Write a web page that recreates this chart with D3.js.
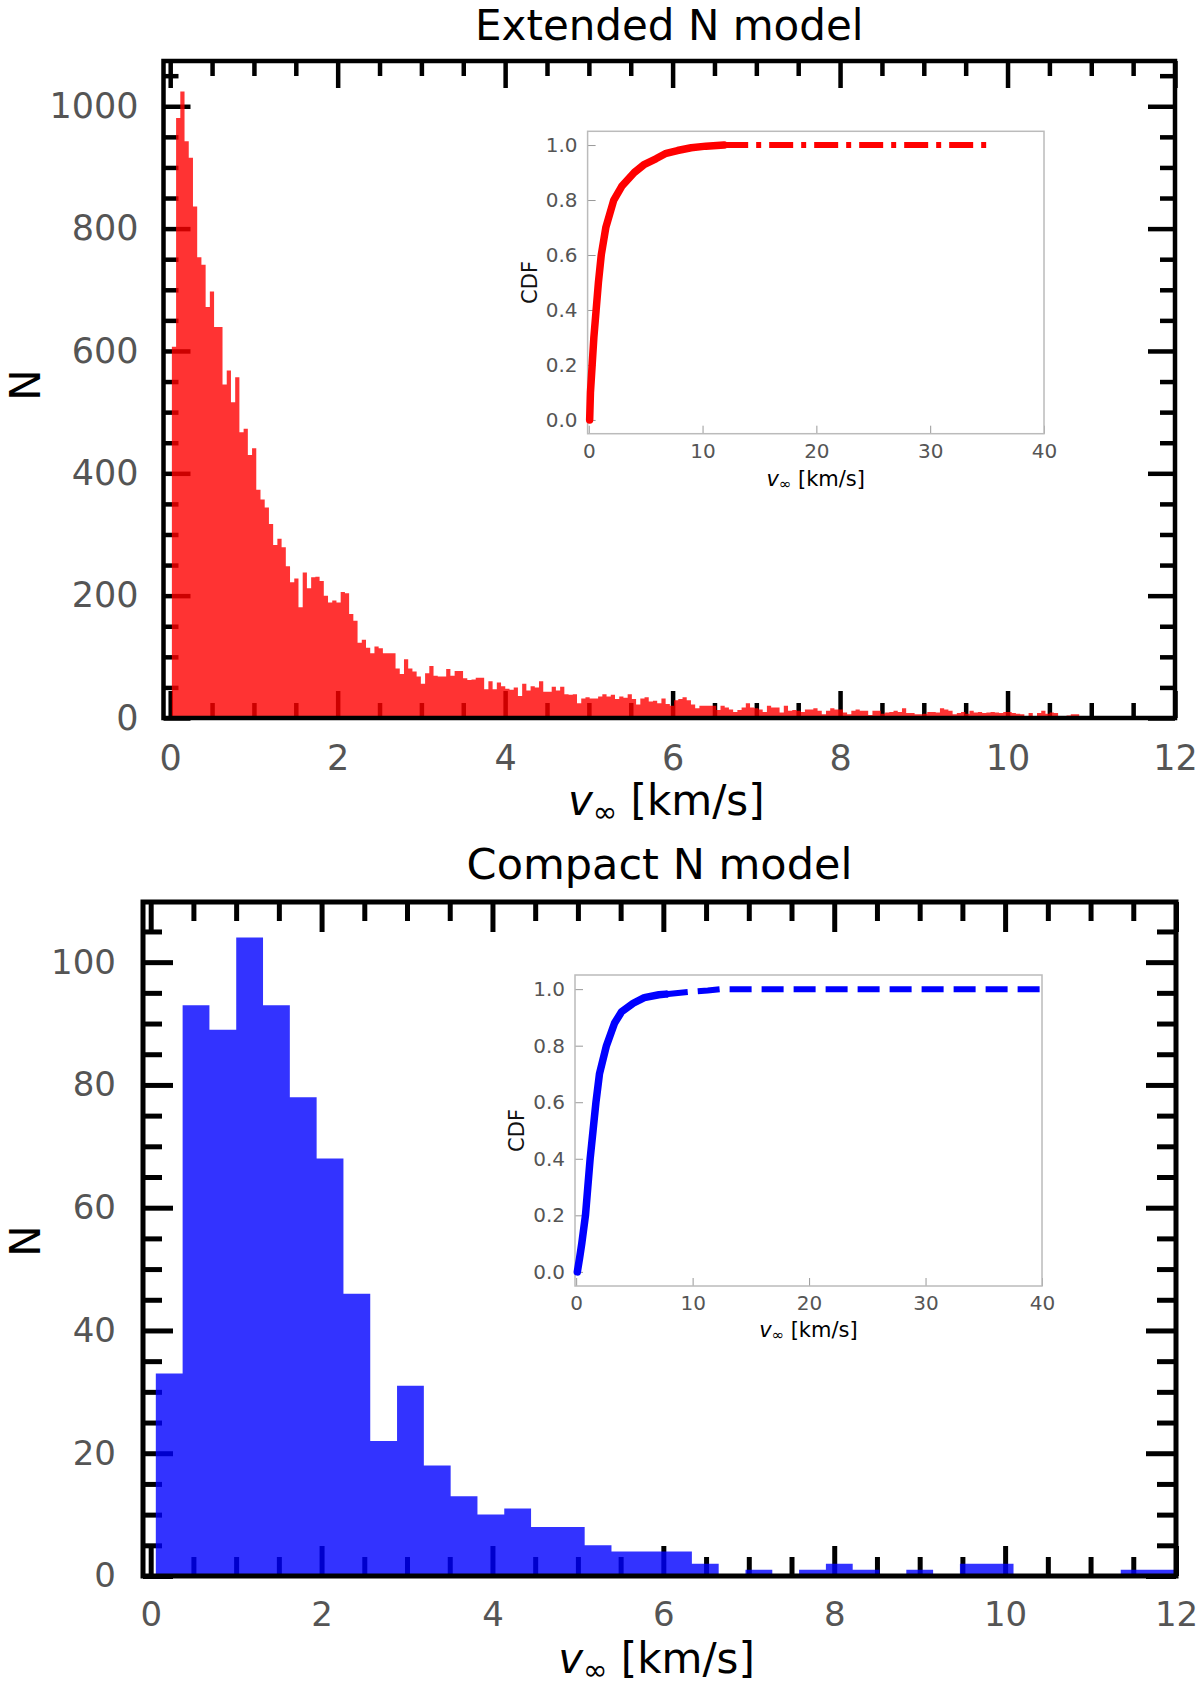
<!DOCTYPE html>
<html>
<head>
<meta charset="utf-8">
<script src="https://cdn.jsdelivr.net/npm/d3@7"></script>
<style>
  body { margin: 0; background: #fff; }
  svg { display: block; }
</style>
</head>
<body>
<svg id="chart" width="1200" height="1687"></svg>
<script>
/* ---------- data ---------- */
// Extended N model: histogram of v_inf, bins of 0.0504 km/s starting at 0.02
const extBinStart = 0.02;
const extBinWidth = 0.0504;
const extCounts = [
  607, 981, 1024, 943, 916, 836, 753, 741, 672, 697, 639, 639, 545, 568, 516, 557, 467, 473, 430, 441,
  373, 357, 344, 317, 283, 293, 279, 248, 222, 228, 181, 238, 212, 230, 231, 224, 200, 189, 192, 189,
  206, 204, 170, 159, 123, 128, 115, 106, 117, 114, 106, 106, 106, 81, 72, 96, 81, 76, 68, 56,
  73, 85, 69, 68, 68, 80, 69, 77, 77, 65, 62, 63, 66, 66, 47, 60, 47, 58, 52, 48,
  46, 50, 36, 56, 45, 52, 50, 60, 43, 43, 51, 45, 51, 39, 38, 39, 24, 32, 34, 32,
  32, 35, 39, 35, 38, 31, 35, 33, 39, 31, 22, 32, 34, 27, 28, 24, 32, 23, 20, 29,
  31, 34, 29, 22, 16, 20, 20, 20, 20, 13, 20, 17, 14, 10, 13, 17, 24, 17, 16, 14,
  10, 20, 17, 17, 9, 20, 12, 13, 12, 10, 14, 14, 16, 12, 6, 12, 16, 14, 14, 9,
  6, 12, 14, 12, 12, 5, 12, 12, 7, 9, 10, 12, 10, 16, 8, 8, 6, 6, 7, 10,
  10, 9, 16, 14, 12, 6, 8, 10, 7, 12, 9, 10, 8, 9, 10, 9, 8, 10, 10, 8,
  7, 6, 3, 8, 3, 8, 12, 7, 9, 8, 3, 3, 4, 6, 6, 3, 2
];

// Compact N model: bins of 0.3137 km/s starting at 0.06
const compBinStart = 0.06;
const compBinWidth = 0.3137;
const compCounts = [
  33, 93, 89, 104, 93, 78, 68, 46, 22, 31, 18, 13, 10, 11, 8, 8, 5, 4, 4, 4,
  2, 0, 1, 0, 1, 2, 1, 0, 1, 0, 2, 2, 0, 0, 0, 0, 1, 1
];

// CDF insets
const extCdfX = [0.08, 0.15, 0.3, 0.45, 0.65, 0.85, 1.1, 1.5, 2.2, 2.9, 4.0, 4.9, 5.9, 6.8, 7.8, 9.0, 10.3, 11.9, 35.3];
const extCdfY = [0.0, 0.1, 0.2, 0.3, 0.4, 0.5, 0.6, 0.7, 0.8, 0.85, 0.9, 0.93, 0.95, 0.97, 0.98, 0.99, 0.996, 1.0, 1.0];
const compCdfX = [0.1, 0.3, 0.48, 0.8, 1.0, 1.2, 1.45, 1.7, 2.0, 2.6, 3.3, 3.9, 4.9, 5.85, 7.1, 9.7, 11.3, 12.5, 40];
const compCdfY = [0.0, 0.05, 0.1, 0.2, 0.3, 0.4, 0.5, 0.6, 0.7, 0.8, 0.88, 0.92, 0.95, 0.97, 0.98, 0.99, 0.995, 1.0, 1.0];

// ticks
const histXMajor = [0, 2, 4, 6, 8, 10, 12];
const histXMinor = d3.range(0, 12.01, 0.5).filter(v => v % 2 !== 0);
const extYMajor = [0, 200, 400, 600, 800, 1000];
const extYMinor = d3.range(0, 1051, 50).filter(v => v % 200 !== 0);
const compYMajor = [0, 20, 40, 60, 80, 100];
const compYMinor = d3.range(0, 106, 5).filter(v => v % 20 !== 0);
const cdfXTicks = [0, 10, 20, 30, 40];
const cdfYTicks = [0, 0.2, 0.4, 0.6, 0.8, 1.0];

/* ---------- drawing ---------- */
const FONT = "'DejaVu Sans', sans-serif";
const svg = d3.select("#chart");

function xLabel(g, x, y, size, anchor) {
  const t = g.append("text")
    .attr("x", x).attr("y", y)
    .attr("text-anchor", anchor || "middle")
    .attr("font-family", FONT)
    .attr("font-size", size)
    .attr("fill", "#000");
  t.append("tspan").attr("font-style", "italic").text("v");
  t.append("tspan").attr("font-size", size * 0.7).attr("dy", size * 0.16).text("∞");
  t.append("tspan").attr("dy", -size * 0.16).text(" [km/s]");
}

function styleAxis(g, width, color) {
  g.select(".domain").remove();
  g.selectAll("line").attr("stroke", color).attr("stroke-width", width);
}

function histPanel(o) {
  const g = svg.append("g");
  const x = d3.scaleLinear().domain(o.xDomain).range([o.l, o.r]);
  const y = d3.scaleLinear().domain(o.yDomain).range([o.b, o.t]);

  // ticks on all four sides, pointing in (drawn below the bars)
  const sides = [
    [d3.axisBottom, x, `translate(0,${o.b})`, o.xMajor, o.xMinor, true],
    [d3.axisTop, x, `translate(0,${o.t})`, o.xMajor, o.xMinor, false],
    [d3.axisLeft, y, `translate(${o.l},0)`, o.yMajor, o.yMinor, true],
    [d3.axisRight, y, `translate(${o.r},0)`, o.yMajor, o.yMinor, false]
  ];
  sides.forEach(([ax, sc, tr, major, minor, labelled]) => {
    const isX = ax === d3.axisBottom || ax === d3.axisTop;
    g.append("g").attr("transform", tr)
      .call(ax(sc).tickValues(minor).tickSize(-o.minorLen).tickFormat(""))
      .call(a => styleAxis(a, o.tickW, "#000"));
    const maj = g.append("g").attr("transform", tr)
      .call(ax(sc).tickValues(major).tickSize(-o.majorLen)
        .tickPadding(isX ? o.xPad : o.yPad)
        .tickFormat(labelled ? d3.format("d") : ""))
      .call(a => styleAxis(a, o.tickW, "#000"));
    maj.attr("font-family", FONT).attr("font-size", o.tickFont);
    maj.selectAll("text").attr("fill", "#555");
  });

  // histogram as one step area, semi-transparent
  const pts = o.counts.map((c, i) => [o.binStart + i * o.binWidth, c]);
  pts.push([o.binStart + o.counts.length * o.binWidth, o.counts[o.counts.length - 1]]);
  const area = d3.area()
    .x(d => x(d[0]))
    .y0(y(0))
    .y1(d => y(d[1]))
    .curve(d3.curveStepAfter);
  g.append("path")
    .datum(pts)
    .attr("d", area)
    .attr("fill", o.color)
    .attr("fill-opacity", 0.8);

  // frame
  g.append("rect")
    .attr("x", o.l).attr("y", o.t)
    .attr("width", o.r - o.l).attr("height", o.b - o.t)
    .attr("fill", "none").attr("stroke", "#000").attr("stroke-width", o.frameW);

  // title + labels
  g.append("text")
    .attr("x", (o.l + o.r) / 2).attr("y", o.titleY)
    .attr("text-anchor", "middle")
    .attr("font-family", FONT).attr("font-size", o.titleFont)
    .attr("fill", "#000")
    .text(o.title);
  xLabel(g, (o.l + o.r) / 2 - 3, o.xLabelY, o.labelFont);
  g.append("text")
    .attr("transform", `translate(${o.yLabelX},${o.yLabelY}) rotate(-90)`)
    .attr("text-anchor", "middle")
    .attr("font-family", FONT).attr("font-size", o.labelFont)
    .attr("fill", "#000")
    .text("N");
}

function cdfInset(o) {
  const g = svg.append("g");
  const x = d3.scaleLinear().domain([-0.1, 40]).range([o.l, o.r]);
  const y = d3.scaleLinear().domain([-0.05, 1.05]).range([o.b, o.t]);

  g.append("rect")
    .attr("x", o.l).attr("y", o.t)
    .attr("width", o.r - o.l).attr("height", o.b - o.t)
    .attr("fill", "#fff");

  const ax = g.append("g").attr("transform", `translate(0,${o.b})`)
    .call(d3.axisBottom(x).tickValues(cdfXTicks).tickSize(-8).tickPadding(10).tickFormat(d3.format("d")));
  const ay = g.append("g").attr("transform", `translate(${o.l},0)`)
    .call(d3.axisLeft(y).tickValues(cdfYTicks).tickSize(-8).tickPadding(10).tickFormat(d3.format(".1f")));
  [ax, ay].forEach(a => {
    styleAxis(a, 1, "#999");
    a.attr("font-family", FONT).attr("font-size", 20);
    a.selectAll("text").attr("fill", "#555");
  });

  g.append("rect")
    .attr("x", o.l).attr("y", o.t)
    .attr("width", o.r - o.l).attr("height", o.b - o.t)
    .attr("fill", "none").attr("stroke", "#bbb").attr("stroke-width", 1.5);

  const pts = o.cx.map((v, i) => [v, o.cy[i]]);
  const line = d3.line().x(d => x(d[0])).y(d => y(d[1]));

  // dense part solid, sparse tail dashed
  const tail = pts.filter(d => d[0] >= o.solidEnd);
  const head = pts.filter(d => d[0] <= o.solidEnd);
  const lastHead = head[head.length - 1];
  if (lastHead[0] < o.solidEnd) {
    const j = pts.findIndex(d => d[0] > o.solidEnd);
    const a = pts[j - 1], b = pts[j];
    const f = (o.solidEnd - a[0]) / (b[0] - a[0]);
    const p = [o.solidEnd, a[1] + f * (b[1] - a[1])];
    head.push(p);
    tail.unshift(p);
  }
  g.append("path").datum(tail).attr("d", line)
    .attr("fill", "none").attr("stroke", o.color).attr("stroke-width", 6)
    .attr("stroke-dasharray", o.dash);
  g.append("path").datum(head).attr("d", line)
    .attr("fill", "none").attr("stroke", o.color).attr("stroke-width", 7.5)
    .attr("stroke-linejoin", "round").attr("stroke-linecap", "round");

  xLabel(g, (o.l + o.r) / 2, o.xLabelY, 21);
  g.append("text")
    .attr("transform", `translate(${o.yLabelX},${(o.t + o.b) / 2}) rotate(-90)`)
    .attr("text-anchor", "middle")
    .attr("font-family", FONT).attr("font-size", 21)
    .attr("fill", "#111")
    .text("CDF");
}

/* ---------- panels ---------- */
histPanel({
  l: 163.5, r: 1175, t: 61, b: 718,
  xDomain: [-0.08, 12], yDomain: [0, 1074],
  xMajor: histXMajor, xMinor: histXMinor, yMajor: extYMajor, yMinor: extYMinor,
  majorLen: 27, minorLen: 15, tickW: 4.5, frameW: 4.5,
  tickFont: 35, xPad: 27, yPad: 25,
  counts: extCounts, binStart: extBinStart, binWidth: extBinWidth, color: "red",
  title: "Extended N model", titleY: 39.5, titleFont: 42,
  labelFont: 42, xLabelY: 815, yLabelX: 40, yLabelY: 385
});

histPanel({
  l: 143, r: 1176, t: 902, b: 1576,
  xDomain: [-0.09, 12], yDomain: [0, 109.8],
  xMajor: histXMajor, xMinor: histXMinor, yMajor: compYMajor, yMinor: compYMinor,
  majorLen: 30, minorLen: 19, tickW: 5, frameW: 5,
  tickFont: 34, xPad: 26, yPad: 27,
  counts: compCounts, binStart: compBinStart, binWidth: compBinWidth, color: "blue",
  title: "Compact N model", titleY: 879, titleFont: 43,
  labelFont: 42, xLabelY: 1673, yLabelX: 40, yLabelY: 1241
});

cdfInset({
  l: 587.6, r: 1044, t: 131.3, b: 433.7,
  cx: extCdfX, cy: extCdfY, color: "red", solidEnd: 11.9,
  dash: "24,8,5,8", xLabelY: 486, yLabelX: 537
});

cdfInset({
  l: 575, r: 1042, t: 975, b: 1286,
  cx: compCdfX, cy: compCdfY, color: "blue", solidEnd: 7.7,
  dash: "22,10", xLabelY: 1337, yLabelX: 524
});
</script>
</body>
</html>
